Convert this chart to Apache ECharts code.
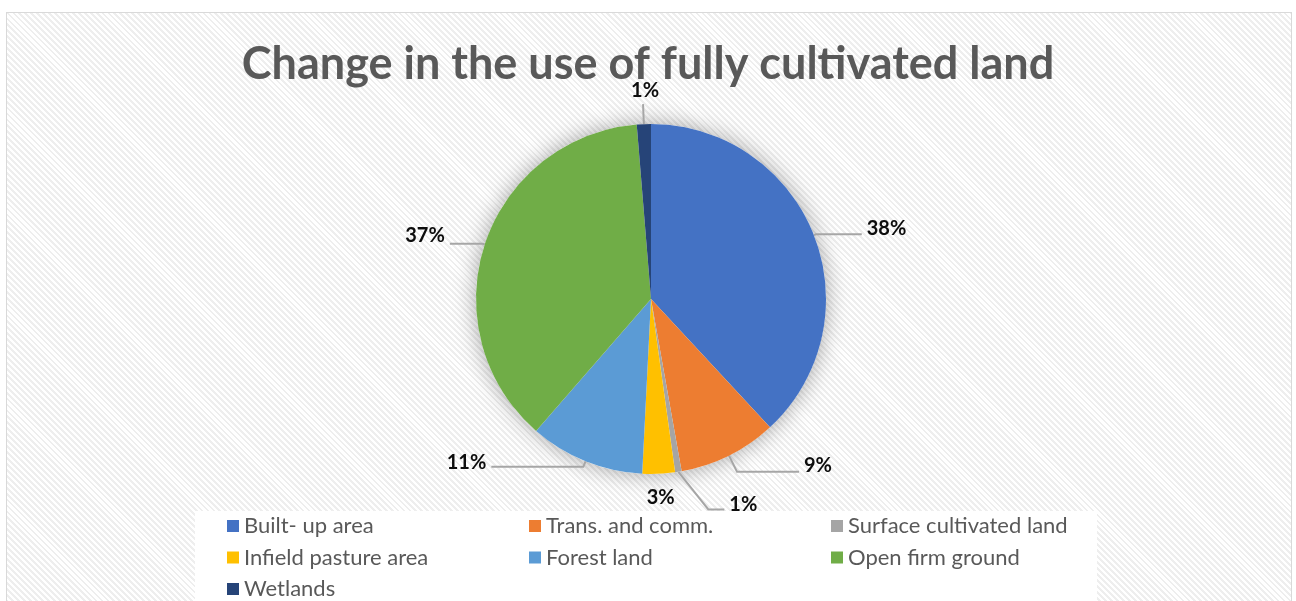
<!DOCTYPE html>
<html>
<head>
<meta charset="utf-8">
<script src="https://cdn.jsdelivr.net/npm/echarts@6/dist/echarts.min.js"></script>
<style>
  html, body { margin: 0; padding: 0; background: #ffffff; }
  #wrap { position: relative; width: 1296px; height: 601px; overflow: hidden; background: #ffffff; }
  #frame {
    position: absolute; left: 6px; top: 12px; width: 1286px; height: 600px;
    border: 1px solid #d9d9d9; box-sizing: border-box;
    background: repeating-linear-gradient(45deg, #ffffff 0px, #ffffff 2.2px, #eeeeee 2.2px, #eeeeee 4.2px);
  }
  #chart { position: absolute; left: 0; top: 0; width: 1296px; height: 601px; }
</style>
</head>
<body>
<div id="wrap">
  <div id="frame"></div>
  <div id="chart"></div>
</div>
<script>
// ---- data ----
const titleText = 'Change in the use of fully cultivated land';
const categories = ['Built- up area', 'Trans. and comm.', 'Surface cultivated land', 'Infield pasture area', 'Forest land', 'Open firm ground', 'Wetlands'];
const shares = [38.1, 9.1, 0.6, 3.0, 10.6, 37.3, 1.3];
const colors = ['#4472C4', '#ED7D31', '#A5A5A5', '#FFC000', '#5B9BD5', '#70AD47', '#264478'];
const legendCol1 = ['Built- up area', 'Infield pasture area', 'Wetlands'];
const legendCol2 = ['Trans. and comm.', 'Forest land'];
const legendCol3 = ['Surface cultivated land', 'Open firm ground'];

// ---- label line styling per slice (lengths only) ----
const lineLen = {
  'Built- up area': [2, 46],
  'Trans. and comm.': [18, 62],
  'Surface cultivated land': [38, 40],
  'Infield pasture area': [22, 0],
  'Forest land': [6, 92],
  'Open firm ground': [2, 33],
  'Wetlands': [20, 0]
};
// small text offsets relative to the leader line end
const labelShift = {
  'Built- up area': [0, -6],
  'Trans. and comm.': [0, -6],
  'Surface cultivated land': [0, -5],
  'Infield pasture area': [-4, 2],
  'Forest land': [0, -4],
  'Open firm ground': [0, -8],
  'Wetlands': [7, -4]
};

const pieData = categories.map((c, i) => ({
  name: c,
  value: shares[i],
  itemStyle: { color: colors[i] },
  labelLine: {
    show: c !== 'Infield pasture area',
    length: lineLen[c][0],
    length2: lineLen[c][1]
  }
}));

const chart = echarts.init(document.getElementById('chart'), null, { renderer: 'canvas' });

const legendBase = {
  orient: 'vertical',
  top: 515,
  padding: 0,
  itemWidth: 12,
  itemHeight: 12,
  itemGap: 9.5,
  icon: 'rect',
  textStyle: { fontFamily: 'Lato', fontSize: 22, color: '#595959' },
  selectedMode: false
};

const option = {
  backgroundColor: 'transparent',
  animation: false,
  title: {
    text: titleText,
    left: 'center',
    top: 37,
    textStyle: { fontFamily: 'Lato', fontWeight: 'bold', fontSize: 45, color: '#595959' }
  },
  graphic: [{
    type: 'rect',
    silent: true,
    z: -1,
    shape: { x: 195, y: 511, width: 902, height: 100 },
    style: { fill: '#ffffff' }
  }],
  legend: [
    Object.assign({}, legendBase, { left: 227, data: legendCol1 }),
    Object.assign({}, legendBase, { left: 529, data: legendCol2 }),
    Object.assign({}, legendBase, { left: 831, data: legendCol3 })
  ],
  series: [
    {
      type: 'pie',
      silent: true,
      center: [651, 299],
      radius: 175,
      label: { show: false },
      labelLine: { show: false },
      itemStyle: { color: '#ffffff', shadowBlur: 22, shadowColor: 'rgba(0,0,0,0.35)' },
      data: [{ value: 1, name: '' }],
      z: 1
    },
    {
      type: 'pie',
      center: [651, 299],
      radius: 175,
      startAngle: 90,
      clockwise: true,
      avoidLabelOverlap: false,
      z: 2,
      label: {
        show: true,
        position: 'outside',
        formatter: p => Math.round(p.percent) + '%',
        fontFamily: 'Lato',
        fontWeight: 'bold',
        fontSize: 20,
        color: '#0d0d0d',
        distanceToLabelLine: 5
      },
      labelLine: {
        show: true,
        lineStyle: { color: '#a6a6a6', width: 2 },
        smooth: false
      },
      labelLayout: function (params) {
        const name = categories[params.dataIndex];
        const s = labelShift[name];
        const out = { dx: s[0], dy: s[1] };
        if (name === 'Wetlands') {
          out.align = 'center';
          out.verticalAlign = 'bottom';
        }
        if (name === 'Infield pasture area') {
          out.align = 'center';
        }
        if (name === 'Surface cultivated land' && params.labelLinePoints && params.labelLinePoints.length === 3) {
          const pts = params.labelLinePoints;
          // bend the leader: make the first segment lean toward the label
          out.labelLinePoints = [pts[0], [pts[1][0] + 24, pts[1][1]], pts[2]];
        }
        return out;
      },
      data: pieData
    }
  ]
};

chart.setOption(option);
</script>
</body>
</html>
